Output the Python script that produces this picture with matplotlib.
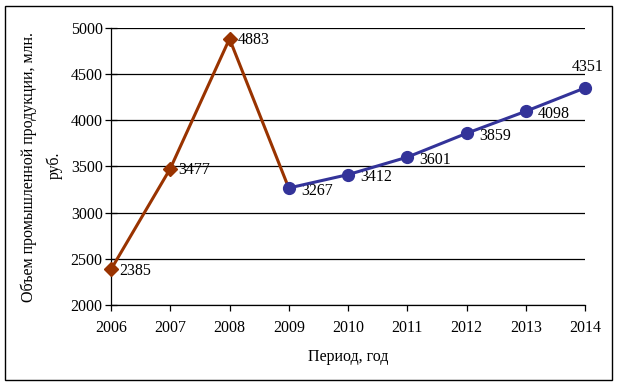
import matplotlib
matplotlib.use("Agg")
import matplotlib.pyplot as plt
from matplotlib.patches import Rectangle

years1 = [2006, 2007, 2008, 2009]
vals1 = [2385, 3477, 4883, 3267]
years2 = [2009, 2010, 2011, 2012, 2013, 2014]
vals2 = [3267, 3412, 3601, 3859, 4098, 4351]
yticks = [2000, 2500, 3000, 3500, 4000, 4500, 5000]
xticks = list(range(2006, 2015))

plt.rcParams['font.family'] = ['Liberation Serif', 'DejaVu Serif']
fs = 11.5
brown = '#993300'
blue = '#333399'

fig = plt.figure(figsize=(6.18, 3.86), dpi=100)
fig.patches.append(Rectangle((5/618, 6/386), 607/618, 374/386, transform=fig.transFigure,
                             fill=False, edgecolor='black', linewidth=1.0))
ax = fig.add_axes([111/618, 81/386, 474/618, 277/386])

ax.set_xlim(2006, 2014)
ax.set_ylim(2000, 5000)
ax.set_yticks(yticks)
ax.set_xticks(xticks)
ax.yaxis.grid(True, color='black', linewidth=0.9)
ax.set_axisbelow(True)
for s in ['top', 'right']:
    ax.spines[s].set_visible(False)
ax.spines['left'].set_linewidth(0.9)
ax.spines['bottom'].set_linewidth(0.9)
ax.tick_params(axis='y', direction='inout', length=8, width=0.9, labelsize=fs, pad=2)
ax.tick_params(axis='x', direction='out', length=4, width=0.9, labelsize=fs, pad=7)

ax.plot(years1, vals1, color=brown, linewidth=2.2, marker='D', markersize=7.5,
        markevery=[0, 1, 2], clip_on=False, zorder=3)
ax.plot(years2, vals2, color=blue, linewidth=2.2, marker='o', markersize=8.5, clip_on=False, zorder=4)

for x, y in zip(years1[:-1], vals1[:-1]):
    ax.annotate(str(y), (x, y), xytext=(6, -1), textcoords='offset points',
                ha='left', va='center', fontsize=fs)
for x, y in zip(years2[:-1], vals2[:-1]):
    ax.annotate(str(y), (x, y), xytext=(9, -2), textcoords='offset points',
                ha='left', va='center', fontsize=fs)
ax.annotate(str(vals2[-1]), (years2[-1], vals2[-1]), xytext=(2, 9), textcoords='offset points',
            ha='center', va='bottom', fontsize=fs)

fig.text(348/618, 1 - 357/386, 'Период, год', fontsize=fs, ha='center', va='center')
fig.text(29/618, 1 - 167/386, 'Объем промышленной продукции, млн.', fontsize=fs,
         ha='center', va='center', rotation=90)
fig.text(55/618, 1 - 165/386, 'руб.', fontsize=fs, ha='center', va='center', rotation=90)

fig.savefig('out.png', dpi=100)
